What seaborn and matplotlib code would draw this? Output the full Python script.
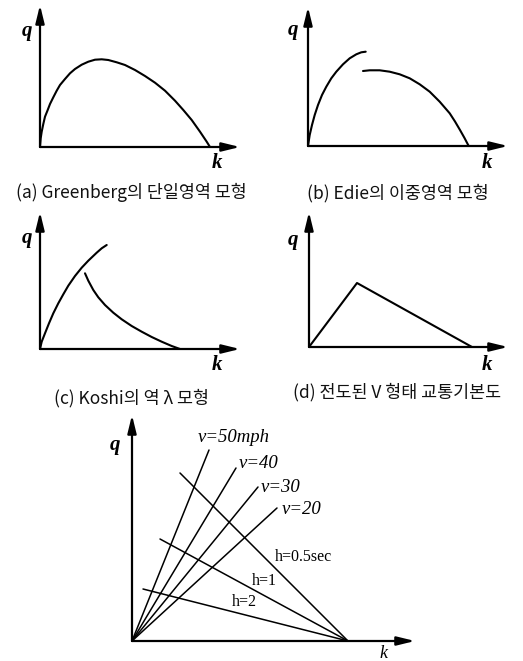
import matplotlib
matplotlib.use("Agg")
import matplotlib.pyplot as plt
import numpy as np
import pandas as pd
import seaborn as sns

sns.set_theme(style="white")
plt.rcParams["font.family"] = ["Noto Sans CJK KR", "DejaVu Sans"]

# ---- flow (q) vs density (k) curves, in drawing units ----
GREENBERG_K = [0, 0.7, 1.7, 3.3, 5, 7.7, 10, 13.3, 16.7, 20, 25, 30, 35, 41.7,
               48.3, 55, 61.7, 68.3, 76.7, 85, 95, 105, 115, 125, 135, 143.3,
               151.7, 160, 166.7, 170]
GREENBERG_Q = [0, 8.7, 15.3, 23, 30.3, 37, 43, 49.7, 56.3, 62, 68, 73.7, 78,
               82.3, 85.3, 87.3, 87.7, 87, 84.7, 82, 77, 71, 64.3, 56.3, 46.3,
               37, 27, 15.3, 5.3, 0]

EDIE_FREE_K = [0, 1.7, 4, 6.7, 10, 14, 18.3, 23.3, 28.3, 35, 41.7, 48.3, 53.3, 57.7]
EDIE_FREE_Q = [0, 11, 21, 31, 41, 51, 59.3, 67.7, 74.3, 81.7, 87.7, 91.7, 93.7, 94.3]
EDIE_CONG_K = [55, 61.7, 71.7, 81.7, 91.7, 101.7, 111.7, 121.7, 131.7, 141.7,
               147, 152, 156.5, 160.7]
EDIE_CONG_Q = [75, 75.7, 75.7, 74.3, 71.7, 67.7, 61.7, 54.3, 44.3, 32.7,
               24.5, 16, 8, 0]

KOSHI_FREE_K = [0, 1.7, 5, 9, 13.3, 18.3, 23.3, 28.3, 35, 41.7, 48.3, 56.7, 61.7, 66.7]
KOSHI_FREE_Q = [0, 7.3, 15.7, 25.7, 35.7, 45.7, 54.7, 63.3, 73, 81.3, 88.3, 96.3, 100.7, 104]
KOSHI_CONG_K = [45, 48.3, 53.3, 58.3, 65, 73.3, 81.7, 91.7, 101.7, 111.7, 121.7, 131.7, 140]
KOSHI_CONG_Q = [75.7, 68.3, 59, 51.7, 44, 36.3, 29.7, 23, 17.3, 12, 7.3, 3, 0]

TRI_K = [0, 48, 163]
TRI_Q = [0, 64, 0]

# ---- speed rays and headway lines ----
SPEED_LABELS = ["v=50mph", "v=40", "v=30", "v=20"]
SPEED_END_K = [77, 104, 126, 145]
SPEED_END_Q = [191, 173, 154, 133]
HEADWAY_LABELS = ["h=0.5sec", "h=1", "h=2"]
HEADWAY_START_K = [48, 28, 11]
HEADWAY_START_Q = [168, 102, 52]
JAM_K = 216

CAPTIONS = [
    "(a) Greenberg의 단일영역 모형",
    "(b) Edie의 이중영역 모형",
    "(c) Koshi의 역 λ 모형",
    "(d) 전도된 V 형태 교통기본도",
]

W, H = 523, 661
fig = plt.figure(figsize=(W / 100, H / 100), dpi=100)
fig.patch.set_facecolor("white")

LW = 1.5
AXIS_FONT = dict(family="Liberation Serif", style="italic", weight="bold",
                 fontsize=15, color="black", ha="center", va="center")


def panel(ox, oy, left, right, below, above):
    """Axes whose data units equal pixels, with (0, 0) at pixel (ox, oy)."""
    ax = fig.add_axes([(ox - left) / W, (H - (oy + below)) / H,
                       (left + right) / W, (below + above) / H])
    ax.set_xlim(-left, right)
    ax.set_ylim(-below, above)
    ax.axis("off")
    return ax


def axes_arrows(ax, xlen, ylen):
    style = "-|>,head_length=0.9,head_width=0.22"
    for tip in [(xlen, 0), (0, ylen)]:
        ax.annotate("", xy=tip, xytext=(0, 0),
                    arrowprops=dict(arrowstyle=style, lw=1.6, color="black",
                                    mutation_scale=12, shrinkA=0, shrinkB=0))


def curve(ax, k, q):
    sns.lineplot(x=k, y=q, ax=ax, sort=False, estimator=None,
                 color="black", lw=LW, clip_on=False)


def caption(text, cx, cy):
    fig.text(cx / W, 1 - cy / H, text, ha="center", va="center",
             fontsize=12.5, color="#111111",
             family=["Noto Sans CJK KR", "DejaVu Sans"])


# (a) Greenberg
ax = panel(40, 147, 30, 205, 30, 145)
axes_arrows(ax, 200, 142)
curve(ax, GREENBERG_K, GREENBERG_Q)
ax.text(-13, 116, "q", **AXIS_FONT)
ax.text(177, -16, "k", **AXIS_FONT)
caption(CAPTIONS[0], 131, 192)

# (b) Edie
ax = panel(308, 146, 30, 205, 30, 145)
axes_arrows(ax, 200, 139)
curve(ax, EDIE_FREE_K, EDIE_FREE_Q)
curve(ax, EDIE_CONG_K, EDIE_CONG_Q)
ax.text(-15, 116, "q", **AXIS_FONT)
ax.text(179, -17, "k", **AXIS_FONT)
caption(CAPTIONS[1], 398, 193)

# (c) Koshi
ax = panel(40, 349, 30, 205, 30, 140)
axes_arrows(ax, 200, 137)
curve(ax, KOSHI_FREE_K, KOSHI_FREE_Q)
curve(ax, KOSHI_CONG_K, KOSHI_CONG_Q)
ax.text(-13, 111, "q", **AXIS_FONT)
ax.text(177, -16, "k", **AXIS_FONT)
caption(CAPTIONS[2], 132, 398)

# (d) inverted V
ax = panel(309, 347, 30, 205, 30, 140)
axes_arrows(ax, 199, 135)
curve(ax, TRI_K, TRI_Q)
ax.text(-16, 107, "q", **AXIS_FONT)
ax.text(178, -18, "k", **AXIS_FONT)
caption(CAPTIONS[3], 397, 392)

# (e) speed rays and headway lines
ax = panel(132, 641, 30, 290, 20, 232)
axes_arrows(ax, 283, 226)
rays = pd.DataFrame({
    "line": np.repeat(SPEED_LABELS, 2),
    "k": np.ravel([[0, k] for k in SPEED_END_K]),
    "q": np.ravel([[0, q] for q in SPEED_END_Q]),
})
sns.lineplot(data=rays, x="k", y="q", units="line", estimator=None, sort=False,
             ax=ax, color="black", lw=1.1, clip_on=False)
heads = pd.DataFrame({
    "line": np.repeat(HEADWAY_LABELS, 2),
    "k": np.ravel([[k, JAM_K] for k in HEADWAY_START_K]),
    "q": np.ravel([[q, 0] for q in HEADWAY_START_Q]),
})
sns.lineplot(data=heads, x="k", y="q", units="line", estimator=None, sort=False,
             ax=ax, color="black", lw=1.1, clip_on=False)

speed_pos = [(102, 203), (127, 178), (149, 154), (170, 131)]
for lab, (x, y) in zip(SPEED_LABELS, speed_pos):
    ax.text(x, y, lab, family="Liberation Serif", style="italic",
            fontsize=13.5, ha="center", va="center", color="black")
head_pos = [(171, 84), (132, 60), (112, 39)]
for lab, (x, y) in zip(HEADWAY_LABELS, head_pos):
    ax.text(x, y, lab, family="Liberation Serif", fontsize=11.5,
            ha="center", va="center", color="black")
ax.text(-17, 196, "q", **AXIS_FONT)
ax.text(251, -12, "k", family="Liberation Serif", style="italic",
        fontsize=13, ha="center", va="center", color="black")

fig.savefig("out.png", dpi=100, facecolor="white")
